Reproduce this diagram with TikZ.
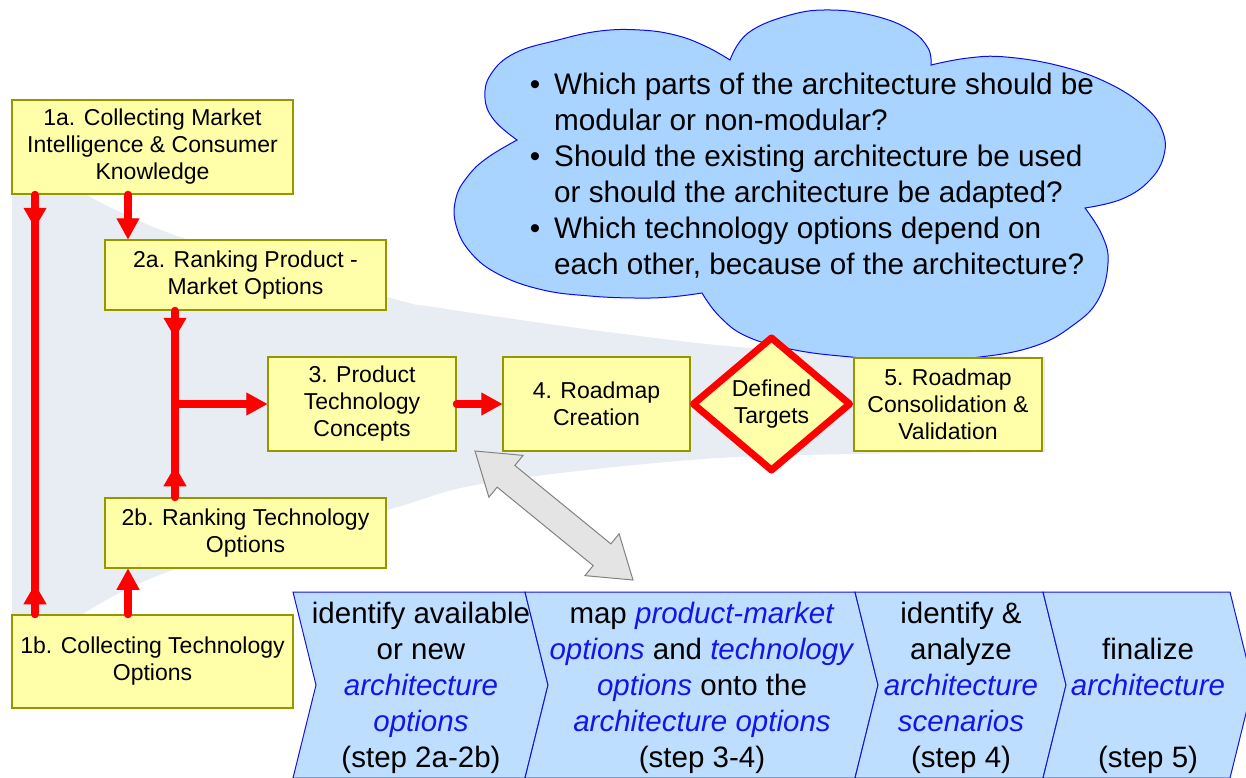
\documentclass[tikz,border=0pt]{standalone}
\usepackage{fontspec}
\setmainfont{Liberation Sans}
\usetikzlibrary{arrows.meta,shapes.geometric,calc,decorations.markings}
\definecolor{boxfill}{RGB}{255,255,170}
\definecolor{boxline}{RGB}{150,150,0}
\definecolor{funnelc}{RGB}{232,236,243}
\definecolor{cloudc}{RGB}{168,212,255}
\definecolor{cloudline}{RGB}{10,10,240}
\definecolor{chevc}{RGB}{190,222,255}
\definecolor{chevline}{RGB}{20,20,220}
\definecolor{itblue}{RGB}{20,20,235}
\definecolor{redc}{RGB}{255,0,0}
\definecolor{dblfill}{RGB}{228,228,228}
\definecolor{dblline}{RGB}{130,130,130}
\newcommand{\ib}[1]{\textcolor{itblue}{\textit{#1}}}
\begin{document}
\begin{tikzpicture}[x=1pt,y=-1pt,
  box/.style={draw=boxline, fill=boxfill, line width=1.5pt, inner sep=0pt, align=center, font=\fontsize{23}{27}\selectfont, execute at begin node={\rule{0pt}{21pt}}},
  redline/.style={color=redc, line width=8pt, line cap=round},
  tipend/.style={-{Triangle[length=21pt,width=23pt,line width=1pt]}},
  downup/.style 2 args={postaction={decorate}, decoration={markings,
     mark=at position #1 with {\arrow{Triangle[length=20pt,width=23pt,line width=1pt]}},
     mark=at position #2 with {\arrowreversed{Triangle[length=20pt,width=23pt,line width=1pt]}}}},
  chev/.style={fill=chevc, draw=chevline, line width=1pt, line join=miter},
  chevtext/.style={align=center, inner sep=0pt, font=\fontsize{29.5}{36}\selectfont},
  cloudtext/.style={align=left, inner sep=0pt, font=\fontsize{29.7}{36}\selectfont}
]
\fill[white] (0,0) rectangle (1246,777);
\useasboundingbox (0,0) rectangle (1246,777);

% funnel background
\fill[funnelc] (12,190) -- (83,190) -- plot[smooth, tension=0.6] coordinates {(83,193) (180,237) (387,297) (440,308) (600,331) (738,347) (853,353) (1045,357)} -- (1045,452) -- plot[smooth, tension=0.6] coordinates {(1045,452) (850,454) (690,460) (487,483) (387,510) (173,570) (83,614)} -- (12,617) -- cycle;

% cloud
\filldraw[fill=cloudc, draw=cloudline, line width=1pt]
  plot[smooth, tension=0.7] coordinates {(730,60) (748,33) (790,15) (831,10) (875,16) (910,30) (928,48) (931,65)}
  -- plot[smooth, tension=0.7] coordinates {(931,65) (968,58) (1006,57) (1060,66) (1108,83) (1145,107) (1162,130) (1164,155) (1150,180) (1122,199) (1085,208)}
  -- plot[smooth, tension=0.7] coordinates {(1085,208) (1102,235) (1108,263) (1098,300) (1072,326) (1035,346) (980,357) (910,361) (851,357) (795,350) (748,337) (720,317) (702,293)}
  -- plot[smooth, tension=0.7] coordinates {(702,293) (670,297) (635,298) (590,296) (543,290) (500,275) (471,253) (456,225) (456,198) (468,176) (487,158) (517,140)}
  -- plot[smooth, tension=0.7] coordinates {(517,140) (494,120) (485,98) (491,74) (515,53) (558,40) (600,31) (640,30) (675,35) (705,46) (730,60)}
  -- cycle;
\node[cloudtext, anchor=west] (ct) at (554,176) {%
\llap{\textbullet\hspace{14pt}}Which parts of the architecture should be\\
modular or non-modular?\\
\llap{\textbullet\hspace{14pt}}Should the existing architecture be used\\
or should the architecture be adapted?\\
\llap{\textbullet\hspace{14pt}}Which technology options depend on\\
each other, because of the architecture?};

% boxes
\node[box, minimum width=281pt, minimum height=94pt] (a1) at (152.5,147) {1a. Collecting Market\\Intelligence \& Consumer\\Knowledge};
\node[box, minimum width=281pt, minimum height=70pt] (a2) at (245.5,275) {2a. Ranking Product -\\Market Options};
\node[box, minimum width=188pt, minimum height=94pt] (a3) at (362,404) {3. Product\\Technology\\Concepts};
\node[box, minimum width=187pt, minimum height=94pt] (a4) at (596.5,404) {4. Roadmap\\Creation};
\node[box, minimum width=188pt, minimum height=93pt] (a5) at (948,404.5) {5. Roadmap\\Consolidation \&\\Validation};
\node[box, minimum width=281pt, minimum height=70pt] (b2) at (245.5,533) {2b. Ranking Technology\\Options};
\node[box, minimum width=281pt, minimum height=93pt] (b1) at (152.5,661.5) {1b. Collecting Technology\\Options};
\node[diamond, draw=redc, line width=7pt, fill=boxfill, minimum width=159pt, minimum height=135pt, aspect=1.2, inner sep=0pt, line join=round, align=center, font=\fontsize{23}{27}\selectfont, execute at begin node={\rule{0pt}{21pt}}] (dt) at (771.5,404) {Defined\\Targets};

% red connectors
\coordinate (lx) at (35,0);
\coordinate (mx) at (128,0);
\coordinate (vx) at (175,0);
\draw[redline, downup={33pt}{-30pt}] (a1.south -| lx) -- (b1.north -| lx);
\draw[redline, tipend] (a1.south -| mx) -- (a2.north -| mx);
\draw[redline, tipend] (b1.north -| mx) -- (b2.south -| mx);
\draw[redline, downup={27pt}{-31pt}] (a2.south -| vx) -- (b2.north -| vx);
\draw[redline, tipend] (a3.west -| vx) -- (a3.west);
\draw[redline, tipend] (a3.east) -- (a4.west);

% gray double arrow
\coordinate (dA) at (475,451);
\coordinate (dB) at (633,580);
\coordinate (h1) at ($(dA)!40pt!(dB)$);
\coordinate (h2) at ($(dB)!40pt!(dA)$);
\filldraw[fill=dblfill, draw=dblline, line width=1pt, line join=miter]
 (dA) -- ($(h1)!27pt!90:(dB)$) -- ($(h1)!14pt!90:(dB)$) -- ($(h2)!14pt!-90:(dA)$) -- ($(h2)!27pt!-90:(dA)$) -- (dB)
 -- ($(h2)!27pt!90:(dA)$) -- ($(h2)!14pt!90:(dA)$) -- ($(h1)!14pt!-90:(dB)$) -- ($(h1)!27pt!-90:(dB)$) -- cycle;

% chevrons
\filldraw[chev] (293,592) -- (525,592) -- (548,685) -- (525,778) -- (293,778) -- (316,685) -- cycle;
\filldraw[chev] (525,592) -- (855,592) -- (878,685) -- (855,778) -- (525,778) -- (548,685) -- cycle;
\filldraw[chev] (855,592) -- (1043,592) -- (1066,685) -- (1043,778) -- (855,778) -- (878,685) -- cycle;
\filldraw[chev] (1043,592) -- (1230,592) -- (1253,685) -- (1230,778) -- (1043,778) -- (1066,685) -- cycle;
\node[chevtext] (c1) at (421,688) {identify available\\or new\\\ib{architecture}\\\ib{options}\\(step 2a-2b)};
\node[chevtext] (c2) at (702,688) {map \ib{product-market}\\\ib{options} and \ib{technology}\\\ib{options} onto the\\\ib{architecture options}\\(step 3-4)};
\node[chevtext] (c3) at (961,688) {identify \&\\analyze\\\ib{architecture}\\\ib{scenarios}\\(step 4)};
\node[chevtext] (c4) at (1148,688) {\vphantom{(}\\finalize\\\ib{architecture}\\\vphantom{(}\\(step 5)};
\end{tikzpicture}
\end{document}
